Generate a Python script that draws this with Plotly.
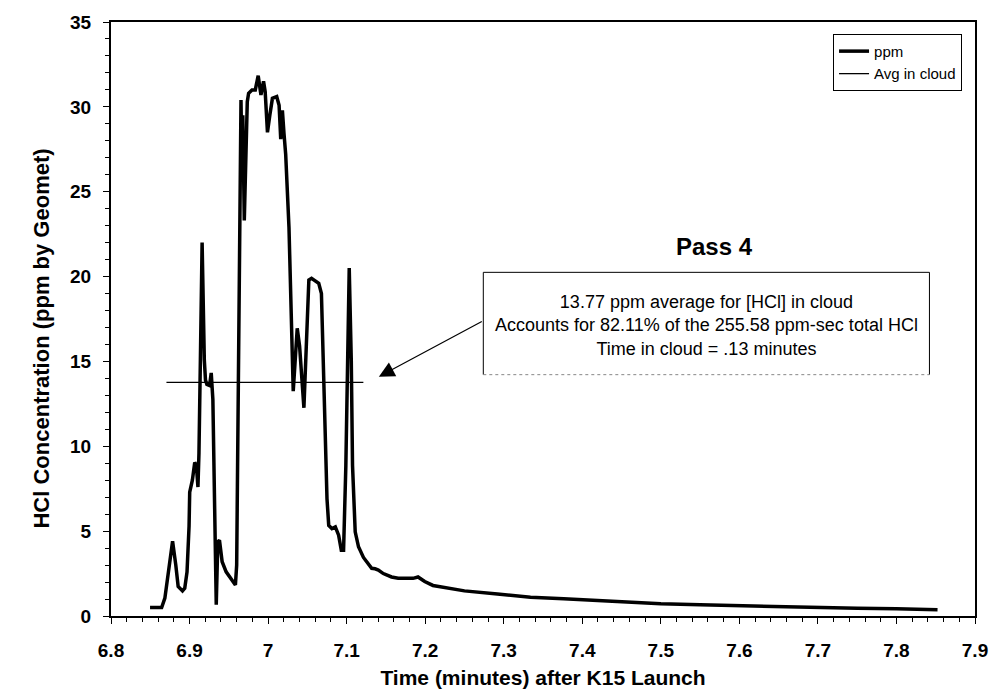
import plotly.graph_objects as go

time_min = [6.8497, 6.8645, 6.8686, 6.8728, 6.8784, 6.8825, 6.8855, 6.891, 6.8939, 6.8968,
            6.8994, 6.9002, 6.9036, 6.9066, 6.9087, 6.9107, 6.912, 6.9138, 6.916, 6.9188,
            6.9203, 6.9221, 6.9255, 6.9276, 6.9297, 6.934, 6.936, 6.9381, 6.9415, 6.9466,
            6.953, 6.9584, 6.96, 6.9655, 6.9668, 6.9678, 6.9697, 6.9719, 6.9735, 6.9752,
            6.9795, 6.9837, 6.9874, 6.9909, 6.9942, 6.9963, 6.9992, 7.0022, 7.0055, 7.011,
            7.014, 7.0161, 7.0182, 7.0203, 7.0224, 7.0266, 7.0308, 7.032, 7.0371, 7.0401,
            7.0456, 7.0497, 7.0519, 7.0553, 7.0603, 7.0645, 7.0679, 7.0709, 7.075, 7.0772,
            7.0813, 7.0856, 7.0898, 7.0932, 7.0961, 7.099, 7.1016, 7.1033, 7.1059, 7.1075,
            7.1109, 7.1151, 7.1214, 7.1277, 7.1319, 7.1362, 7.1404, 7.1467, 7.1572, 7.1656,
            7.1741, 7.1846, 7.1909, 7.1994, 7.2099, 7.233, 7.25, 7.292, 7.3341, 7.3763,
            7.4184, 7.4437, 7.5, 7.55, 7.6, 7.65, 7.7, 7.75, 7.8, 7.8523]
ppm = [0.5, 0.5, 1.05, 2.6, 4.4, 3.0, 1.74, 1.48, 1.64, 2.6,
       5.3, 7.3, 8.0, 9.05, 8.86, 7.6, 9.6, 15.1, 22.0, 15.1,
       13.9, 13.64, 13.58, 14.32, 12.76, 0.66, 4.37, 4.47, 3.2, 2.6,
       2.22, 1.83, 3.0, 30.4, 26.0, 29.5, 23.3, 28.5, 30.3, 30.8,
       31.0, 31.0, 31.84, 30.7, 31.5, 30.9, 28.5, 29.5, 30.5, 30.6,
       30.1, 28.1, 29.8, 28.4, 27.2, 22.9, 16.5, 13.25, 16.95, 15.9,
       12.27, 17.6, 19.8, 19.9, 19.7, 19.6, 19.0, 13.7, 6.9, 5.34,
       5.15, 5.25, 4.76, 3.88, 3.88, 8.86, 15.1, 20.5, 15.1, 8.86,
       4.96, 4.08, 3.45, 3.1, 2.81, 2.78, 2.71, 2.5, 2.3, 2.22,
       2.2, 2.22, 2.3, 2.03, 1.8, 1.64, 1.48, 1.29, 1.11, 1.01,
       0.9, 0.82, 0.72, 0.66, 0.6, 0.55, 0.5, 0.46, 0.42, 0.37]

avg_time = [6.8706, 7.1213]
avg_ppm = [13.77, 13.77]

x_ticks = [6.8, 6.9, 7.0, 7.1, 7.2, 7.3, 7.4, 7.5, 7.6, 7.7, 7.8, 7.9]
x_tick_text = ["6.8", "6.9", "7", "7.1", "7.2", "7.3", "7.4", "7.5", "7.6", "7.7", "7.8", "7.9"]
y_ticks = [0, 5, 10, 15, 20, 25, 30, 35]

info_lines = ["13.77 ppm average for [HCl] in cloud",
              "Accounts for 82.11% of the 255.58 ppm-sec total HCl",
              "Time in cloud = .13 minutes"]

FONT = "Liberation Sans, Arial, sans-serif"

fig = go.Figure()
fig.add_trace(go.Scatter(x=time_min, y=ppm, mode="lines", name="ppm",
                         line=dict(color="black", width=3.5)))
fig.add_trace(go.Scatter(x=avg_time, y=avg_ppm, mode="lines", name="Avg in cloud",
                         line=dict(color="black", width=1.3)))

# annotation box (faint bottom edge)
bx0, bx1, by0, by1 = 7.274, 7.842, 14.22, 20.25
fig.add_shape(type="line", x0=bx0, x1=bx1, y0=by1, y1=by1, line=dict(color="black", width=1))
fig.add_shape(type="line", x0=bx0, x1=bx0, y0=by0, y1=by1, line=dict(color="black", width=1))
fig.add_shape(type="line", x0=bx1, x1=bx1, y0=by0, y1=by1, line=dict(color="black", width=1))
fig.add_shape(type="line", x0=bx0, x1=bx1, y0=by0, y1=by0, line=dict(color="#888", width=1, dash="dot"))

fig.add_annotation(x=7.558, y=17.09, xref="x", yref="y", text="<br>".join(info_lines),
                   showarrow=False, font=dict(family=FONT, size=18, color="black"), align="center")
fig.add_annotation(x=7.568, y=21.75, xref="x", yref="y", text="<b>Pass 4</b>",
                   showarrow=False, font=dict(family=FONT, size=24, color="black"))
fig.add_annotation(x=7.141, y=14.1, xref="x", yref="y", ax=7.274, ay=17.4, axref="x", ayref="y",
                   text="", showarrow=True, arrowhead=2, arrowsize=2.6, arrowwidth=1.2,
                   arrowcolor="black")

# y-axis title (placed as rotated text)
fig.add_annotation(x=-0.097, y=0.4666, xref="paper", yref="paper",
                   text="<b>HCl Concentration (ppm by Geomet)</b>", textangle=-90,
                   showarrow=False, font=dict(family=FONT, size=22, color="black"))

fig.update_layout(
    width=1000, height=698,
    margin=dict(l=111, r=19, t=20, b=80),
    paper_bgcolor="white", plot_bgcolor="white",
    font=dict(family=FONT, color="black"),
    showlegend=True,
    legend=dict(x=0.985, y=0.98, xanchor="right", yanchor="top",
                bgcolor="white", bordercolor="black", borderwidth=1,
                font=dict(family=FONT, size=15, color="black"),
                tracegroupgap=0, itemwidth=30),
)
fig.update_xaxes(range=[6.8, 7.9], tickvals=x_ticks, ticktext=x_tick_text,
                 showgrid=False, zeroline=False,
                 showline=True, linecolor="black", linewidth=1.5, mirror=True,
                 ticks="outside", ticklen=6, tickwidth=1.2, tickcolor="black",
                 ticklabelstandoff=10,
                 minor=dict(dtick=0.02, ticks="outside", ticklen=4, tickcolor="black", tickwidth=1),
                 tickfont=dict(family=FONT, size=19, color="black", weight="bold"),
                 title=dict(text="<b>Time (minutes) after K15 Launch</b>",
                            font=dict(family=FONT, size=21, color="black"), standoff=11))
fig.update_yaxes(range=[0, 35], tickvals=y_ticks,
                 showgrid=False, zeroline=False,
                 showline=True, linecolor="black", linewidth=2, mirror=True,
                 ticks="outside", ticklen=6, tickwidth=1.2, tickcolor="black",
                 ticklabelstandoff=8,
                 minor=dict(dtick=1, ticks="outside", ticklen=4, tickcolor="black", tickwidth=1),
                 tickfont=dict(family=FONT, size=19, color="black", weight="bold"))

fig.write_html("out.html")
